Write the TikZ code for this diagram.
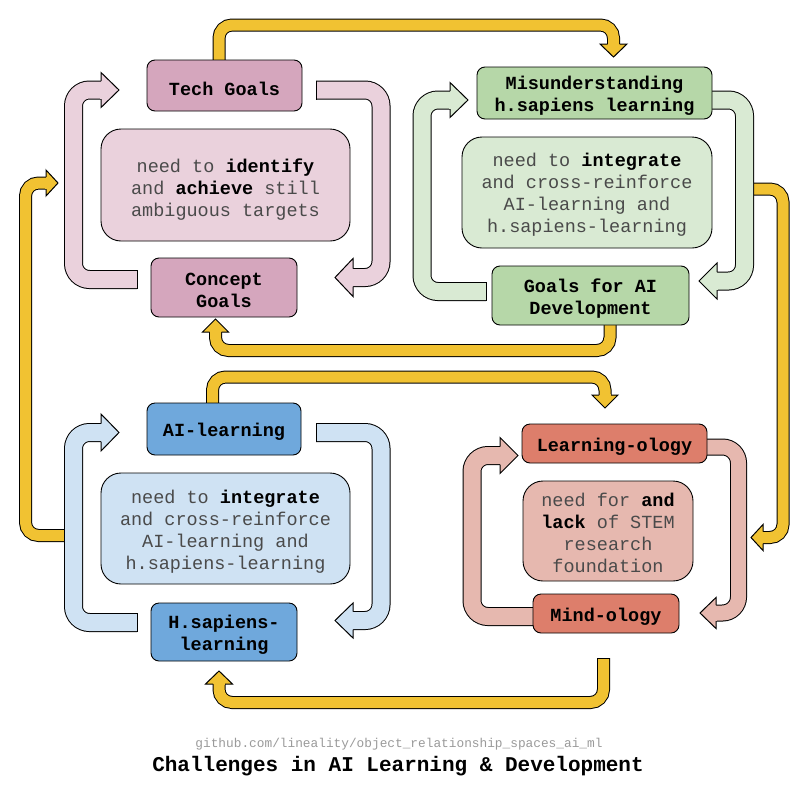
\documentclass[tikz,border=0pt]{standalone}
\usepackage{fontspec}
\setmainfont{Liberation Mono}
\setmonofont{Liberation Mono}
\usetikzlibrary{calc}
\pgfdeclarelayer{background}
\pgfsetlayers{background,main}

\definecolor{pinkD}{HTML}{D5A6BD}
\definecolor{pinkL}{HTML}{EAD1DC}
\definecolor{greenD}{HTML}{B6D7A8}
\definecolor{greenL}{HTML}{D9EAD3}
\definecolor{blueD}{HTML}{6FA8DC}
\definecolor{blueL}{HTML}{CFE2F3}
\definecolor{redD}{HTML}{DD7E6B}
\definecolor{redL}{HTML}{E6B8AF}
\definecolor{gold}{HTML}{F1C232}
\definecolor{bodytext}{HTML}{4A4A4A}
\definecolor{urlgray}{HTML}{9A9A9A}

\newcommand{\emword}[1]{\textcolor{black}{\bfseries #1}}

\tikzset{
  every node/.style={inner sep=0pt, outer sep=0pt},
  keybox/.style={draw=black, line width=0.9pt, rounded corners=8pt, align=center,
    font=\fontsize{18.5}{22}\selectfont\bfseries},
  keyline/.style={keybox, execute at begin node={\rule{0pt}{19.5pt}}},
  keytext/.style={align=center, font=\fontsize{18.5}{22}\selectfont\bfseries},
  notebox/.style={draw=black, line width=0.9pt, rounded corners=20pt},
  notetext/.style={align=center, font=\fontsize{18.5}{22}\selectfont, text=bodytext},
  % hollow U-shaped loop arrows
  pshaft/.style={line width=1pt, double=#1, double distance=17pt,
    rounded corners=16pt, line cap=butt},
  nshaft/.style={line width=1pt, double=#1, double distance=15pt,
    rounded corners=16pt, line cap=butt},
  % gold links between the four groups
  gshaft/.style={line width=1pt, double=gold, double distance=11pt,
    rounded corners=13pt, line cap=butt},
  % head: #1 fill, #2 shaft border half-distance, #3 head half-width, #4 head length
  pics/ahead/.style n args={4}{code={
    \fill[#1] (0,-#3) -- (#4,0) -- (0,#3) -- cycle;
    \fill[#1] (-0.8,{-(#2-0.5)}) rectangle (0,{#2-0.5});
    \draw[line width=1pt, line join=miter] (0,-#2) -- (0,-#3) -- (#4,0) -- (0,#3) -- (0,#2);
  }},
  pics/acap/.style={code={\draw[line width=1pt] (0,-#1) -- (0,#1);}},
}

\begin{document}
\begin{tikzpicture}[x=1pt, y=-1pt]
\useasboundingbox (0,0) rectangle (805,790);

% ---------- boxes ----------
\node[keyline, fill=pinkD, minimum width=155pt, minimum height=51pt] (tech) at (224.5,85.5) {Tech Goals};
\node[notebox, fill=pinkL, minimum width=249pt, minimum height=112pt] (pmid) at (225.5,185) {};
\node[keybox, fill=pinkD, minimum width=146pt, minimum height=59pt] (concept) at (224,287.5) {};
\node[keybox, fill=greenD, minimum width=235pt, minimum height=52pt] (mis) at (594.5,93) {};
\node[notebox, fill=greenL, minimum width=250pt, minimum height=111pt] (gmid) at (587,192.5) {};
\node[keybox, fill=greenD, minimum width=197pt, minimum height=59pt] (gai) at (590.5,295.5) {};
\node[keyline, fill=blueD, minimum width=154pt, minimum height=52pt] (ail) at (224,429) {AI-learning};
\node[notebox, fill=blueL, minimum width=249pt, minimum height=111pt] (bmid) at (225.5,528.5) {};
\node[keybox, fill=blueD, minimum width=146pt, minimum height=58pt] (hsl) at (224,632) {};
\node[keyline, fill=redD, minimum width=185pt, minimum height=39pt] (lol) at (614.5,443.5) {Learning-ology};
\node[notebox, fill=redL, minimum width=170pt, minimum height=100pt] (rmid) at (608,531) {};
\node[keyline, fill=redD, minimum width=146pt, minimum height=39pt] (mol) at (606,613.5) {Mind-ology};

% ---------- texts of the two-line and note boxes ----------
\node[notetext] (pmid-t) at ($(pmid)+(0,4.5)$)
  {need to \emword{identify}\\and \emword{achieve} still\\ambiguous targets};
\node[keytext] (concept-t) at ($(concept)+(0,2.5)$) {Concept\\Goals};
\node[keytext] (mis-t) at ($(mis)+(0,3)$) {Misunderstanding\\h.sapiens learning};
\node[notetext] (gmid-t) at ($(gmid)+(0,2.5)$)
  {need to \emword{integrate}\\and cross-reinforce\\AI-learning and\\h.sapiens-learning};
\node[keytext] (gai-t) at ($(gai)+(0,3.5)$) {Goals for AI\\Development};
\node[notetext] (bmid-t) at ($(bmid)+(0,3)$)
  {need to \emword{integrate}\\and cross-reinforce\\AI-learning and\\h.sapiens-learning};
\node[keytext] (hsl-t) at ($(hsl)+(0,3)$) {H.sapiens-\\learning};
\node[notetext] (rmid-t) at ($(rmid)+(0,2)$)
  {need for \emword{and}\\\emword{lack} of STEM\\research\\foundation};

% ---------- end points of all connectors ----------
\coordinate (y1s) at ($(tech.north)+(-5.5,0)$);
\coordinate (y1e) at ($(mis.north)+(19,-23)$);
\coordinate (y2s) at ($(gai.south)+(19.5,0)$);
\coordinate (y2e) at ($(concept.south)+(-8.5,15)$);
\coordinate (y3s) at ($(ail.north)+(-11.5,0)$);
\coordinate (y3e) at ($(lol.north)+(-9.5,-29)$);
\coordinate (y4s) at ($(gmid.east)+(40,-3.5)$);
\coordinate (y4e) at ($(rmid.east)+(70,6.5)$);
\coordinate (y5s) at ($(bmid.west)+(-35,7)$);
\coordinate (y5e) at ($(pmid.west)+(-55,-2)$);
\coordinate (y6s) at ($(mol.south)+(-2.5,25)$);
\coordinate (y6e) at ($(hsl.south)+(-5,23)$);

\coordinate (pkLs) at ($(concept.west)+(-14,-8)$);
\coordinate (pkLe) at ($(tech.west)+(-46,4.5)$);
\coordinate (pkRs) at ($(tech.east)+(14,4.5)$);
\coordinate (pkRe) at ($(concept.east)+(56,-10)$);
\coordinate (grLs) at ($(gai.west)+(-6,-4)$);
\coordinate (grLe) at ($(mis.west)+(-27,7)$);
\coordinate (grRs) at ($(mis.east)+(0,7)$);
\coordinate (grRe) at ($(gai.east)+(28,-14.5)$);
\coordinate (blLs) at ($(hsl.west)+(-14,-9.5)$);
\coordinate (blLe) at ($(ail.west)+(-46,3.5)$);
\coordinate (blRs) at ($(ail.east)+(15,3.5)$);
\coordinate (blRe) at ($(hsl.east)+(56,-11.5)$);
\coordinate (rdLs) at ($(mol.west)+(7,3)$);
\coordinate (rdLe) at ($(lol.west)+(-22,12)$);
\coordinate (rdRs) at ($(lol.east)+(0,3.5)$);
\coordinate (rdRe) at ($(mol.east)+(37,-0.5)$);

\begin{pgfonlayer}{background}
\fill[white] (0,0) rectangle (805,790);

% ---------- gold links ----------
\draw[gshaft] (y1s) -- ++(0,-35) -| (y1e);
\pic[rotate=-90] at (y1e) {ahead={gold}{6}{13.5}{13}};
\draw[gshaft] (y2s) -- ++(0,25.5) -| (y2e);
\pic[rotate=90] at (y2e) {ahead={gold}{6}{13}{13}};
\draw[gshaft] (y3s) -- ++(0,-26) -| (y3e);
\pic[rotate=-90] at (y3e) {ahead={gold}{6}{13}{13}};
\draw[gshaft] (y4s) -| ($(y4e)+(20,0)$) -- (y4e);
\pic[rotate=180] at (y4e) {ahead={gold}{6}{13}{12}};
\draw[gshaft] (y5s) -| ($(y5e)+(-20.5,0)$) -- (y5e);
\pic at (y5e) {ahead={gold}{6}{13}{12}};
\draw[gshaft] (y6s) -- ++(0,44.5) -| (y6e);
\pic[rotate=90] at (y6e) {ahead={gold}{6}{13.5}{13}};
\pic[rotate=90] at (y6s) {acap=6.5};

% ---------- loop arrows of each group ----------
% pink
\draw[pshaft=pinkL] (pkLs) -| ($(pkLe)+(-27.5,0)$) -- (pkLe);
\pic at (pkLe) {ahead={pinkL}{9}{17.5}{18}};
\pic at (pkLs) {acap=9.5};
\draw[pshaft=pinkL] (pkRs) -| ($(pkRe)+(28,0)$) -- (pkRe);
\pic[rotate=180] at (pkRe) {ahead={pinkL}{9}{19}{18}};
\pic at (pkRs) {acap=9.5};
% green
\draw[pshaft=greenL] (grLs) -| ($(grLe)+(-28,0)$) -- (grLe);
\pic at (grLe) {ahead={greenL}{9}{17.5}{18}};
\pic at (grLs) {acap=9.5};
\draw[pshaft=greenL] (grRs) -| ($(grRe)+(27.5,0)$) -- (grRe);
\pic[rotate=180] at (grRe) {ahead={greenL}{9}{18}{18}};
% blue
\draw[pshaft=blueL] (blLs) -| ($(blLe)+(-27.5,0)$) -- (blLe);
\pic at (blLe) {ahead={blueL}{9}{18.5}{18}};
\pic at (blLs) {acap=9.5};
\draw[pshaft=blueL] (blRs) -| ($(blRe)+(28,0)$) -- (blRe);
\pic[rotate=180] at (blRe) {ahead={blueL}{9}{17.5}{18}};
\pic at (blRs) {acap=9.5};
% red
\draw[pshaft=redL] (rdLs) -| ($(rdLe)+(-28,0)$) -- (rdLe);
\pic at (rdLe) {ahead={redL}{9}{18}{18}};
\draw[nshaft=redL] (rdRs) -| ($(rdRe)+(22.5,0)$) -- (rdRe);
\pic[rotate=180] at (rdRe) {ahead={redL}{8}{15.5}{16}};
\end{pgfonlayer}

% ---------- footer ----------
\node[font=\fontsize{12.8}{15}\selectfont, text=urlgray] (url) at (399,744)
  {github.com/lineality/object\_relationship\_spaces\_ai\_ml};
\node[font=\fontsize{21}{24}\selectfont\bfseries] (title) at (398,766)
  {Challenges in AI Learning \& Development};
\end{tikzpicture}
\end{document}
